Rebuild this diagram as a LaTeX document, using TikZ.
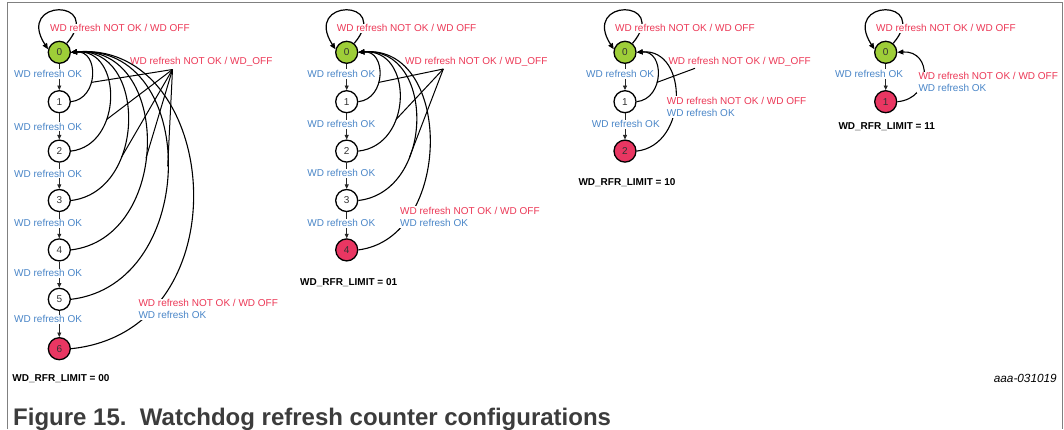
\documentclass[tikz,border=0pt]{standalone}
\usepackage{fontspec}
\setmainfont{Liberation Sans}
\usetikzlibrary{arrows.meta}
\definecolor{okblue}{RGB}{74,134,200}
\definecolor{nokred}{RGB}{236,56,86}
\definecolor{startgreen}{RGB}{158,206,56}
\definecolor{endred}{RGB}{233,54,98}
\definecolor{framegray}{RGB}{128,128,128}
\definecolor{captiongray}{RGB}{60,60,60}

\begin{document}
\begin{tikzpicture}[x=1pt,y=-1pt,
  every node/.style={font=\fontsize{10}{12}\selectfont},
  state/.style={circle,draw,line width=1.3pt,minimum size=22pt,inner sep=0pt,text=black!80,fill=white},
  startstate/.style={state,fill=startgreen},
  endstate/.style={state,fill=endred},
  okstep/.style={draw=black!85,line width=0.8pt,-{Triangle[length=4.5pt,width=4pt]}},
  back/.style={line width=1.1pt,-{Triangle[length=6pt,width=5pt]}},
  loopline/.style={line width=1.2pt,-{Triangle[length=6pt,width=5pt]}},
  leader/.style={line width=1pt},
  oklabel/.style={text=okblue,fill=white,inner sep=1pt,anchor=west},
  noklabel/.style={text=nokred,fill=white,inner sep=1pt,anchor=west},
  offlabel/.style={text=nokred,inner sep=0pt,anchor=west},
  bothlabel/.style={fill=white,inner xsep=2pt,inner ysep=1pt,anchor=west,align=left},
  limit/.style={font=\fontsize{10}{12}\selectfont\bfseries,anchor=west,inner sep=0pt}
]
\useasboundingbox (0,0) rectangle (1064,429);

% frame, open at the bottom
\draw[framegray,line width=1.2pt] (7.5,429) -- (7.5,2.5) -- (1062.5,2.5) -- (1062.5,429);

% ---------- WD_RFR_LIMIT = 00 ----------
\node[startstate] (a0) at (59.3,52.3) {0};
\foreach \k in {1,...,5} \node[state] (a\k) at (59.3,{52.3+49.4*\k}) {\k};
\node[endstate] (a6) at (59.3,{52.3+49.4*6}) {6};
\foreach \i/\j in {0/1,1/2,2/3,3/4,4/5,5/6} \draw[okstep] (a\i) -- (a\j);
\foreach \y [count=\n] in {74,126.7,173.7,223.3,273.3,319.3}
  \node[oklabel] (aok\n) at (13,\y) {WD refresh OK};
\draw[loopline] (a0.50) .. controls +(38,-45) and +(-33,-51) .. (a0.165);
\node[noklabel] (aloop) at (49,28.3) {WD refresh NOT OK / WD OFF};
\foreach \k/\c/\p in {1/28/0.4,2/52/0.35,3/76/0.33,4/101/0.45,5/129/0.5}
  \draw[back] (a\k.east) .. controls +({\c},{-3*\k}) and +({\c},{-2*\k}) .. (a0.east) coordinate[pos=\p] (ar\k);
\draw[back] (a6.east) .. controls +(175,-18) and +(150,-12) .. (a0.east);
\node[offlabel] (aoff) at (130,61.7) {WD refresh NOT OK / WD\_OFF};
\coordinate (af) at (172.5,69.5);
\foreach \k in {1,...,5} \draw[leader] (af) -- (ar\k);
\node[bothlabel] (aend) at (136.3,309.2)
  {\textcolor{nokred}{WD refresh NOT OK / WD OFF}\\\textcolor{okblue}{WD refresh OK}};
\node[limit] (alim) at (12.3,378.3) {WD\_RFR\_LIMIT = 00};

% ---------- WD_RFR_LIMIT = 01 ----------
\node[startstate] (b0) at (346.7,52.3) {0};
\foreach \k in {1,...,3} \node[state] (b\k) at (346.7,{52.3+49.4*\k}) {\k};
\node[endstate] (b4) at (346.7,{52.3+49.4*4}) {4};
\foreach \i/\j in {0/1,1/2,2/3,3/4} \draw[okstep] (b\i) -- (b\j);
\foreach \y [count=\n] in {74,124.3,173.3,223.3}
  \node[oklabel] (bok\n) at (306.2,\y) {WD refresh OK};
\draw[loopline] (b0.50) .. controls +(38,-45) and +(-33,-51) .. (b0.165);
\node[noklabel] (bloop) at (335.7,28.3) {WD refresh NOT OK / WD OFF};
\foreach \k/\c/\p in {1/28/0.4,2/55/0.35,3/77/0.33}
  \draw[back] (b\k.east) .. controls +({\c},{-3*\k}) and +({\c},{-2*\k}) .. (b0.east) coordinate[pos=\p] (br\k);
\draw[back] (b4.east) .. controls +(95,-12) and +(95,-8) .. (b0.east);
\node[offlabel] (boff) at (405,61.7) {WD refresh NOT OK / WD\_OFF};
\coordinate (bf) at (443.3,69);
\foreach \k in {1,...,3} \draw[leader] (bf) -- (br\k);
\node[bothlabel] (bend) at (398,216.9)
  {\textcolor{nokred}{WD refresh NOT OK / WD OFF}\\\textcolor{okblue}{WD refresh OK}};
\node[limit] (blim) at (300,282.7) {WD\_RFR\_LIMIT = 01};

% ---------- WD_RFR_LIMIT = 10 ----------
\node[startstate] (c0) at (625,52.3) {0};
\node[state] (c1) at (625,101.7) {1};
\node[endstate] (c2) at (625,151.1) {2};
\draw[okstep] (c0) -- (c1);
\draw[okstep] (c1) -- (c2);
\node[oklabel] (cok1) at (585,74) {WD refresh OK};
\node[oklabel] (cok2) at (590.7,124.3) {WD refresh OK};
\draw[loopline] (c0.50) .. controls +(38,-45) and +(-33,-51) .. (c0.165);
\node[noklabel] (cloop) at (614,28.3) {WD refresh NOT OK / WD OFF};
\draw[back] (c1.east) .. controls +(28,-3) and +(28,-2) .. (c0.east) coordinate[pos=0.4] (cr1);
\draw[back] (c2.east) .. controls +(52,-6) and +(52,-4) .. (c0.east);
\node[offlabel] (coff) at (668.3,61.7) {WD refresh NOT OK / WD\_OFF};
\coordinate (cf) at (695,68.3);
\draw[leader] (cf) -- (cr1);
\node[bothlabel] (cend) at (664.7,107)
  {\textcolor{nokred}{WD refresh NOT OK / WD OFF}\\\textcolor{okblue}{WD refresh OK}};
\node[limit] (clim) at (578.3,182.7) {WD\_RFR\_LIMIT = 10};

% ---------- WD_RFR_LIMIT = 11 ----------
\node[startstate] (d0) at (885.7,52.3) {0};
\node[endstate] (d1) at (885.7,101.7) {1};
\draw[okstep] (d0) -- (d1);
\node[oklabel] (dok1) at (834,74) {WD refresh OK};
\draw[loopline] (d0.50) .. controls +(38,-45) and +(-33,-51) .. (d0.165);
\node[noklabel] (dloop) at (875,28.3) {WD refresh NOT OK / WD OFF};
\draw[back] (d1.east) .. controls +(35,-3) and +(35,-2) .. (d0.east);
\node[bothlabel] (dend) at (916.3,82.2)
  {\textcolor{nokred}{WD refresh NOT OK / WD OFF}\\\textcolor{okblue}{WD refresh OK}};
\node[limit] (dlim) at (838.3,126.7) {WD\_RFR\_LIMIT = 11};

% figure id and caption
\node[font=\fontsize{11.8}{14}\selectfont\itshape,anchor=east,inner sep=0pt] (figid) at (1057,378.3) {aaa-031019};
\node[font=\fontsize{24}{28}\selectfont\bfseries,text=captiongray,anchor=base west,inner sep=0pt] (caption)
  at (13,425.5) {Figure 15.\ \ Watchdog refresh counter configurations};
\end{tikzpicture}
\end{document}
